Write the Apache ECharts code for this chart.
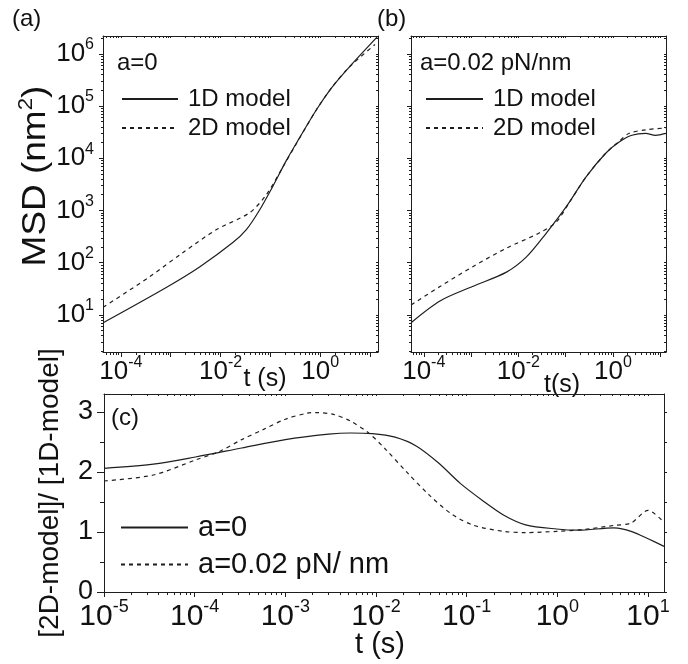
<!DOCTYPE html>
<html>
<head>
<meta charset="utf-8">
<script src="https://cdn.jsdelivr.net/npm/echarts@6/dist/echarts.min.js"></script>
<style>
html, body { margin: 0; padding: 0; background: #fff; }
#coolgraph { width: 688px; height: 664px; }
</style>
</head>
<body>
<div id="coolgraph"></div>
<script>
var chartDom = document.getElementById('coolgraph');
var myChart = echarts.init(chartDom);
var option;

var FONT = '"Liberation Sans", Arial, sans-serif';
var INK = '#1e1e1e';

// (a) a=0, MSD vs t
var tA1D = [4.4e-5, 8.3e-4, 3.8e-3, 0.0174, 0.033, 0.06, 0.11, 0.21, 0.38, 0.83, 1.74, 3.8, 14];
var msdA1D = [7.1, 34, 83, 240, 430, 1000, 2800, 9100, 24000, 83000, 230000, 550000, 2100000];
var tA2D = [4.4e-5, 3.8e-4, 1.74e-3, 8.3e-3, 0.038, 0.083, 0.174, 0.3, 0.83, 1.74, 3.8, 12.6];
var msdA2D = [14, 54, 155, 430, 900, 2000, 6500, 16000, 83000, 230000, 550000, 1500000];

// (b) a=0.02 pN/nm
var tB1D = [5.4e-5, 2.2e-4, 1.07e-3, 5.6e-3, 0.0148, 0.039, 0.102, 0.27, 0.71, 1.35, 2.5, 4.9, 7.9, 13.2];
var msdB1D = [7.1, 18.5, 35, 66, 129, 370, 1170, 4400, 12600, 20400, 27500, 30000, 27500, 30000];
var tB2D = [5.4e-5, 2.2e-4, 1.07e-3, 5.6e-3, 0.0275, 0.063, 0.117, 0.27, 0.71, 1.35, 2.2, 4.9, 13.2];
var msdB2D = [15.5, 35, 83, 190, 370, 600, 1380, 4400, 12600, 21000, 30000, 35000, 38000];

// (c) ratio [2D-model]/[1D-model]
var tC0 = [1e-5, 3.5e-5, 1.02e-4, 3.3e-4, 1e-3, 3e-3, 5.2e-3, 9.1e-3, 0.0162, 0.028, 0.049, 0.085, 0.148, 0.257, 0.447, 0.98, 1.7, 4.2, 6.5, 15];
var ratioC0 = [2.06, 2.13, 2.25, 2.40, 2.54, 2.63, 2.65, 2.64, 2.58, 2.43, 2.15, 1.81, 1.53, 1.28, 1.12, 1.05, 1.03, 1.07, 1.01, 0.76];
var tC1 = [1e-5, 3.5e-5, 1.02e-4, 1.86e-4, 3.3e-4, 5.75e-4, 1e-3, 1.74e-3, 2.2e-3, 3.4e-3, 5.2e-3, 8.3e-3, 0.0129, 0.0224, 0.039, 0.068, 0.12, 0.257, 0.447, 0.98, 1.9, 4.2, 6.5, 10, 15];
var ratioC1 = [1.85, 1.95, 2.20, 2.34, 2.54, 2.71, 2.88, 2.98, 2.99, 2.96, 2.85, 2.65, 2.37, 1.98, 1.61, 1.30, 1.11, 1.01, 0.99, 1.01, 1.04, 1.11, 1.15, 1.36, 1.16];

// tick labels
var timeLabelsTop = [1e-4, 1e-2, 1];
var msdLabels = [1e1, 1e2, 1e3, 1e4, 1e5, 1e6];
var timeLabelsC = [1e-5, 1e-4, 1e-3, 1e-2, 1e-1, 1, 10];
var ratioLabels = [0, 1, 2, 3];
var ratioMinor = [0.5, 1.5, 2.5];

function pairs(xs, ys) {
	return xs.map(function (x, i) { return [x, ys[i]]; });
}

function decades(lo, hi) {
	var out = [];
	for (var n = lo; n <= hi; n++) out.push(Math.pow(10, n));
	return out;
}

function minors(lo, hi) {
	var out = [];
	for (var n = lo; n <= hi; n++) {
		for (var k = 2; k < 10; k++) out.push(k * Math.pow(10, n));
	}
	return out;
}

function pow10(v) {
	return '10{s|' + Math.round(Math.log10(v)) + '}';
}

function axis(o) {
	var a = {
		type: o.type || 'log',
		logBase: 10,
		gridIndex: o.grid,
		position: o.pos,
		min: o.min,
		max: o.max,
		axisLine: { show: !!o.line, onZero: false, lineStyle: { color: INK, width: 1 } },
		axisTick: { show: true, inside: !!o.inside, length: o.len, customValues: o.ticks,
			lineStyle: { color: INK, width: 1 } },
		axisLabel: { show: false },
		splitLine: { show: false },
		minorTick: { show: false },
		axisPointer: { show: false }
	};
	if (o.labels) {
		a.axisLabel = {
			show: true,
			customValues: o.labels,
			formatter: o.fmt,
			margin: o.margin,
			color: '#111',
			fontFamily: FONT,
			fontSize: o.fs,
			lineHeight: o.lh,
			rich: { s: { fontFamily: FONT, fontSize: o.sfs, lineHeight: o.sfs, verticalAlign: 'top', color: '#111' } }
		};
	}
	return a;
}

function curve(name, xs, ys, xi, yi, dashed) {
	return {
		name: name,
		type: 'line',
		xAxisIndex: xi,
		yAxisIndex: yi,
		data: pairs(xs, ys),
		symbol: 'none',
		showSymbol: false,
		smooth: 0.3,
		silent: true,
		lineStyle: { color: INK, width: 1.2, type: dashed ? [4, 4] : 'solid' },
		itemStyle: { color: INK }
	};
}

function txt(x, y, text, size, extra) {
	var el = {
		type: 'text', x: x, y: y, silent: true,
		style: { text: text, fill: '#111', fontFamily: FONT, fontSize: size,
			align: 'left', verticalAlign: 'middle' }
	};
	if (extra) {
		for (var k in extra) el.style[k] = extra[k];
	}
	return el;
}

var aMin = 4.37e-5, aMax = 14.5;
var bMin = 5.37e-5, bMax = 13.2;
var mMin = 1.95, mMax = 2.19e6;
var cMin = 1e-5, cMax = 15;

var xAxes = [
	// (a)
	axis({ grid: 0, pos: 'bottom', min: aMin, max: aMax, line: true, len: 5, ticks: decades(-5, 1),
		labels: timeLabelsTop, fmt: pow10, margin: 3, fs: 26, lh: 34, sfs: 16 }),
	axis({ grid: 0, pos: 'bottom', min: aMin, max: aMax, len: 3, ticks: minors(-5, 1) }),
	axis({ grid: 0, pos: 'top', min: aMin, max: aMax, line: true, inside: true, len: 2, ticks: decades(-5, 1).concat(minors(-5, 1)) }),
	// (b)
	axis({ grid: 1, pos: 'bottom', min: bMin, max: bMax, line: true, len: 5, ticks: decades(-5, 1),
		labels: timeLabelsTop, fmt: pow10, margin: 3, fs: 26, lh: 34, sfs: 16 }),
	axis({ grid: 1, pos: 'bottom', min: bMin, max: bMax, len: 3, ticks: minors(-5, 1) }),
	axis({ grid: 1, pos: 'top', min: bMin, max: bMax, line: true, inside: true, len: 2, ticks: decades(-5, 1).concat(minors(-5, 1)) }),
	// (c)
	axis({ grid: 2, pos: 'bottom', min: cMin, max: cMax, line: true, len: 5, ticks: decades(-5, 1),
		labels: timeLabelsC, fmt: pow10, margin: 6, fs: 30, lh: 38, sfs: 18 }),
	axis({ grid: 2, pos: 'bottom', min: cMin, max: cMax, len: 3, ticks: minors(-5, 1) }),
	axis({ grid: 2, pos: 'top', min: cMin, max: cMax, line: true, inside: true, len: 2, ticks: decades(-5, 1).concat(minors(-5, 1)) })
];

var yAxes = [
	// (a)
	axis({ grid: 0, pos: 'left', min: mMin, max: mMax, line: true, len: 4, ticks: decades(0, 6),
		labels: msdLabels, fmt: pow10, margin: 9, fs: 26, lh: 34, sfs: 16 }),
	axis({ grid: 0, pos: 'left', min: mMin, max: mMax, len: 2, ticks: minors(0, 6) }),
	axis({ grid: 0, pos: 'right', min: mMin, max: mMax, line: true, inside: true, len: 2, ticks: decades(0, 6).concat(minors(0, 6)) }),
	// (b)
	axis({ grid: 1, pos: 'left', min: mMin, max: mMax, line: true, len: 4, ticks: decades(0, 6) }),
	axis({ grid: 1, pos: 'left', min: mMin, max: mMax, len: 2, ticks: minors(0, 6) }),
	axis({ grid: 1, pos: 'right', min: mMin, max: mMax, line: true, inside: true, len: 2, ticks: decades(0, 6).concat(minors(0, 6)) }),
	// (c)
	axis({ type: 'value', grid: 2, pos: 'left', min: 0, max: 3.3, line: true, len: 7, ticks: ratioLabels,
		labels: ratioLabels, fmt: function (v) { return String(v); }, margin: 11, fs: 27, lh: 30, sfs: 16 }),
	axis({ type: 'value', grid: 2, pos: 'left', min: 0, max: 3.3, len: 4, ticks: ratioMinor }),
	axis({ type: 'value', grid: 2, pos: 'right', min: 0, max: 3.3, line: true, len: 3, ticks: ratioLabels.concat(ratioMinor) })
];

var supRich = { s: { fontFamily: FONT, fontSize: 20, lineHeight: 20, verticalAlign: 'top', fill: '#111' } };

option = {
	animation: false,
	backgroundColor: '#fff',
	grid: [
		{ left: 103, top: 36, width: 275, height: 316, containLabel: false, outerBoundsMode: 'none' },
		{ left: 411, top: 36, width: 255, height: 316, containLabel: false, outerBoundsMode: 'none' },
		{ left: 104, top: 394, width: 560, height: 198, containLabel: false, outerBoundsMode: 'none' }
	],
	xAxis: xAxes,
	yAxis: yAxes,
	legend: [
		{ data: ['1D model', '2D model'], orient: 'vertical', left: 116, top: 82, itemWidth: 56, itemHeight: 2,
			itemGap: 5, selectedMode: false, itemStyle: { opacity: 0 },
			textStyle: { fontFamily: FONT, fontSize: 24, lineHeight: 24, color: '#111', padding: [0, 0, 0, 5] } },
		{ data: ['1D model', '2D model'], orient: 'vertical', left: 420, top: 82, itemWidth: 57, itemHeight: 2,
			itemGap: 5, selectedMode: false, itemStyle: { opacity: 0 },
			textStyle: { fontFamily: FONT, fontSize: 24, lineHeight: 24, color: '#111', padding: [0, 0, 0, 5] } },
		{ data: ['a=0', 'a=0.02 pN/ nm'], orient: 'vertical', left: 115, top: 508, itemWidth: 67, itemHeight: 2,
			itemGap: 8, selectedMode: false, itemStyle: { opacity: 0 },
			textStyle: { fontFamily: FONT, fontSize: 29, lineHeight: 29, color: '#111', padding: [0, 0, 0, 5] } }
	],
	graphic: [
		txt(12, 19, '(a)', 24),
		txt(377, 19, '(b)', 24),
		txt(111, 418, '(c)', 24),
		txt(117, 63, 'a=0', 24),
		txt(420, 63, 'a=0.02 pN/nm', 24),
		txt(265, 379, 't (s)', 25, { align: 'center' }),
		txt(562, 385, 't(s)', 25, { align: 'center' }),
		txt(380, 645, 't (s)', 29, { align: 'center' }),
		{ type: 'text', x: 36, y: 176, rotation: Math.PI / 2, scaleX: 1.12, silent: true,
			style: { text: 'MSD (nm{s|2})', rich: supRich, fill: '#111', fontFamily: FONT, fontSize: 33,
				lineHeight: 40, align: 'center', verticalAlign: 'middle' } },
		{ type: 'text', x: 50, y: 493, rotation: Math.PI / 2, silent: true,
			style: { text: '[2D-model]/ [1D-model]', fill: '#111', fontFamily: FONT, fontSize: 28,
				align: 'center', verticalAlign: 'middle' } }
	],
	series: [
		curve('1D model', tA1D, msdA1D, 0, 0, false),
		curve('2D model', tA2D, msdA2D, 0, 0, true),
		curve('1D model', tB1D, msdB1D, 3, 3, false),
		curve('2D model', tB2D, msdB2D, 3, 3, true),
		curve('a=0', tC0, ratioC0, 6, 6, false),
		curve('a=0.02 pN/ nm', tC1, ratioC1, 6, 6, true)
	]
};

option && myChart.setOption(option);
</script>
</body>
</html>
